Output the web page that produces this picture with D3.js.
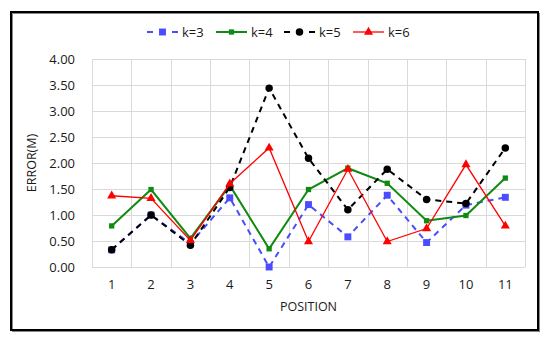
<!DOCTYPE html>
<html><head><meta charset="utf-8">
<script src="https://cdn.jsdelivr.net/npm/d3@7"></script>
<style>body{margin:0;background:#fff}svg{display:block}text{font-family:"Open Sans",sans-serif;fill:#1a1a1a}</style>
</head><body><svg id="c" width="550" height="337"></svg>
<script>
const positions = ["1","2","3","4","5","6","7","8","9","10","11"];
const yTicks = [0,0.5,1,1.5,2,2.5,3,3.5,4];
const seriesNames = ["k=3","k=4","k=5","k=6"];
const k3 = [0.33,1.00,0.45,1.33,0.00,1.20,0.58,1.38,0.47,1.19,1.34];
const k4 = [0.79,1.49,0.55,1.57,0.35,1.49,1.90,1.61,0.89,0.99,1.71];
const k5 = [0.33,1.00,0.42,1.53,3.44,2.09,1.10,1.88,1.30,1.22,2.29];
const k6 = [1.37,1.32,0.51,1.60,2.29,0.49,1.88,0.49,0.74,1.97,0.79];

const styles = [
  {color:"#4b4bff", width:2, dash:"6,5", sym:d3.symbolSquare, size:48},
  {color:"#108a10", width:2, dash:null, sym:d3.symbolSquare, size:28},
  {color:"#000000", width:2, dash:"6,5", sym:d3.symbolCircle, size:44},
  {color:"#ff0000", width:1.3, dash:null, sym:d3.symbolTriangle, size:36}
];
const data = [k3,k4,k5,k6];

const svg = d3.select("#c");
svg.append("rect").attr("x",12.5).attr("y",13.5).attr("width",527).attr("height",318).attr("fill","none").attr("stroke","#888").attr("stroke-width",1);
svg.append("rect").attr("x",11).attr("y",12).attr("width",527).attr("height",318).attr("fill","none").attr("stroke","#000").attr("stroke-width",2);

const L=92, R=525, T=59, B=267;
const x = d3.scaleBand().domain(positions).range([L,R]);
const y = d3.scaleLinear().domain([0,4]).range([B,T]);

const g = svg.append("g");
g.selectAll(".hg").data(yTicks).join("line")
  .attr("x1",L).attr("x2",R).attr("y1",d=>Math.round(y(d))+0.5).attr("y2",d=>Math.round(y(d))+0.5)
  .attr("stroke","#d9d9d9").attr("stroke-width",1);
const vb = positions.map(p=>x(p)).concat([R]);
g.selectAll(".vg").data(vb).join("line")
  .attr("x1",d=>Math.round(d)+0.5).attr("x2",d=>Math.round(d)+0.5).attr("y1",T).attr("y2",B)
  .attr("stroke","#d9d9d9").attr("stroke-width",1);

const yAxis = d3.axisLeft(y).tickValues(yTicks).tickFormat(d3.format(".2f")).tickSize(0).tickPadding(17);
const ya = svg.append("g").attr("transform",`translate(${L},0)`).call(yAxis);
ya.select(".domain").remove();
ya.selectAll("text").style("font-size","13px").style("font-family","'Open Sans',sans-serif").attr("fill","#1a1a1a");

const xAxis = d3.axisBottom(x).tickSize(0).tickPadding(13);
const xa = svg.append("g").attr("transform",`translate(0,${B})`).call(xAxis);
xa.select(".domain").remove();
xa.selectAll("text").style("font-size","13px").style("font-family","'Open Sans',sans-serif").attr("fill","#1a1a1a");

svg.append("text").attr("x",(L+R)/2).attr("y",311).attr("text-anchor","middle").style("font-size","12.5px").text("POSITION");
svg.append("text").attr("transform",`translate(36,${(T+B)/2}) rotate(-90)`).attr("text-anchor","middle").style("font-size","12.5px").text("ERROR(M)");

const cx = p=>x(p)+x.bandwidth()/2;
const line = d3.line().x((d,i)=>cx(positions[i])).y(d=>y(d));

data.forEach((vals,si)=>{
  const s = styles[si];
  const sg = svg.append("g");
  sg.append("path").datum(vals).attr("d",line).attr("fill","none").attr("stroke",s.color)
    .attr("stroke-width",s.width).attr("stroke-dasharray",s.dash);
  sg.selectAll("path.m").data(vals).join("path").attr("class","m")
    .attr("transform",(d,i)=>`translate(${cx(positions[i])},${y(d)})`)
    .attr("d",d3.symbol().type(s.sym).size(s.size)).attr("fill",s.color);
});

const legX = [147,216,284,353];
const lg = svg.append("g");
seriesNames.forEach((n,i)=>{
  const s = styles[i], x0 = legX[i], yy = 32;
  if (s.dash) {
    lg.append("line").attr("x1",x0).attr("x2",x0+6).attr("y1",yy).attr("y2",yy).attr("stroke",s.color).attr("stroke-width",2);
    lg.append("line").attr("x1",x0+25).attr("x2",x0+31).attr("y1",yy).attr("y2",yy).attr("stroke",s.color).attr("stroke-width",2);
  } else {
    lg.append("line").attr("x1",x0).attr("x2",x0+31).attr("y1",yy).attr("y2",yy).attr("stroke",s.color).attr("stroke-width",s.width);
  }
  lg.append("path").attr("transform",`translate(${x0+15.5},${yy})`).attr("d",d3.symbol().type(s.sym).size(s.size)).attr("fill",s.color);
  lg.append("text").attr("x",x0+35).attr("y",yy+4.5).style("font-size","13px").text(n);
});
</script></body></html>
